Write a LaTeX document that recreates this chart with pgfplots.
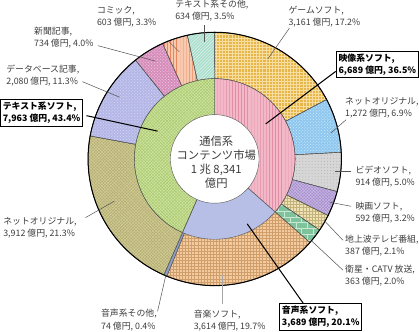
\documentclass[border=0pt]{standalone}
\usepackage{pgfplots}
\usepackage{pgfplotstable}
\pgfplotsset{compat=1.18}
\usetikzlibrary{patterns}
\usepackage{fontspec}
\setmainfont{Noto Sans CJK JP}

\definecolor{game}{HTML}{E6B64A}\definecolor{gamep}{HTML}{F7DE9E}
\definecolor{vnet}{HTML}{8FC7EF}\definecolor{vnetp}{HTML}{D6ECFB}
\definecolor{vsoft}{HTML}{D6D6D6}\definecolor{vsoftp}{HTML}{B4B4B4}
\definecolor{film}{HTML}{A68ECC}\definecolor{filmp}{HTML}{CBBCE6}
\definecolor{terr}{HTML}{EDE2B6}\definecolor{terrp}{HTML}{C4B27A}
\definecolor{sat}{HTML}{7EC39C}\definecolor{satp}{HTML}{C8E8D4}
\definecolor{music}{HTML}{F2CCA0}\definecolor{musicp}{HTML}{CF9E6A}
\definecolor{aoth}{HTML}{8C9CC2}
\definecolor{tnet}{HTML}{B5AF72}\definecolor{tnetp}{HTML}{D3CE9A}
\definecolor{db}{HTML}{B4B6E6}\definecolor{dbp}{HTML}{DADBF5}
\definecolor{news}{HTML}{D68DBB}\definecolor{newsp}{HTML}{F2D2E6}
\definecolor{comic}{HTML}{F7C9AE}\definecolor{comicp}{HTML}{E8875E}
\definecolor{toth}{HTML}{A9DDCC}\definecolor{tothp}{HTML}{E8F7F1}
\definecolor{itext}{HTML}{CFE59E}\definecolor{itextp}{HTML}{A9C872}
\definecolor{ivideo}{HTML}{F3B8C8}\definecolor{ivideop}{HTML}{E28EA6}
\definecolor{iaudio}{HTML}{B8BFE6}
\definecolor{sep}{HTML}{555555}
\definecolor{lbl}{HTML}{3C3C3C}

\tikzset{
 sgame/.style={fill=game,postaction={pattern=grid,pattern color=gamep}},
 svnet/.style={fill=vnet,postaction={pattern=crosshatch dots,pattern color=vnetp}},
 svsoft/.style={fill=vsoft,postaction={pattern=dots,pattern color=vsoftp}},
 sfilm/.style={fill=film,postaction={pattern=crosshatch,pattern color=filmp}},
 sterr/.style={fill=terr,postaction={pattern=grid,pattern color=terrp}},
 ssat/.style={fill=sat,postaction={pattern=bricks,pattern color=satp}},
 smusic/.style={fill=music,postaction={pattern=grid,pattern color=musicp}},
 saoth/.style={fill=aoth},
 stnet/.style={fill=tnet,postaction={pattern=crosshatch,pattern color=tnetp}},
 sdb/.style={fill=db,postaction={pattern=crosshatch dots,pattern color=dbp}},
 snews/.style={fill=news,postaction={pattern=crosshatch dots,pattern color=newsp}},
 scomic/.style={fill=comic,postaction={pattern=vertical lines,pattern color=comicp}},
 stoth/.style={fill=toth,postaction={pattern=north east lines,pattern color=tothp}},
 sitext/.style={fill=itext,postaction={pattern=crosshatch,pattern color=itextp}},
 sivideo/.style={fill=ivideo,postaction={pattern=vertical lines,pattern color=ivideop}},
 siaudio/.style={fill=iaudio},
 lab/.style={anchor=west,align=left,inner sep=0pt,text=lbl,font=\fontsize{8.6}{11.8}\selectfont},
 box/.style={anchor=north west,align=left,inner sep=2.2pt,draw=black,line width=1.1pt,fill=white,font=\bfseries\fontsize{8.6}{12}\selectfont},
 lead/.style={draw=sep,line width=0.5pt},
 blead/.style={draw=black,line width=1pt},
}

% values in 100 million yen (total 18,341), clockwise from the top
\pgfplotstableread[col sep=comma]{
value,style
3161,sgame
1272,svnet
914,svsoft
592,sfilm
387,sterr
363,ssat
3614,smusic
74,saoth
3912,stnet
2080,sdb
734,snews
603,scomic
634,stoth
}\outerdata
\pgfplotstableread[col sep=comma]{
value,style
6689,sivideo
3689,siaudio
7963,sitext
}\innerdata

\newcommand{\cx}{210.5}
\newcommand{\cy}{157}
% total / 100 (kept small for pgfmath)
\newcommand{\totalh}{183.41}

\newcommand{\drawring}[2]{% table, radius
  \pgfplotstablegetrowsof{#1}%
  \pgfmathtruncatemacro\nrows{\pgfplotsretval-1}%
  \gdef\cumang{90}%
  \pgfplotsforeachungrouped \i in {0,...,\nrows}{%
    \pgfplotstablegetelem{\i}{value}\of#1\let\val\pgfplotsretval
    \pgfplotstablegetelem{\i}{style}\of#1\let\sty\pgfplotsretval
    \pgfmathsetmacro\aone{\cumang}%
    \pgfmathsetmacro\atwo{\aone-(\val/\totalh)*3.6}%
    \xdef\cumang{\atwo}%
    \edef\tmp{\noexpand\addplot[\sty,draw=sep,line width=0.4pt,domain=\atwo:\aone,samples=80]
      ({\cx+#2*cos(x)},{\cy-#2*sin(x)}) -- (axis cs:\cx,\cy) -- cycle;}%
    \tmp
  }%
}

\begin{document}
\begin{tikzpicture}
\begin{axis}[width=419pt,height=330pt,scale only axis,
  xmin=0,xmax=419,ymin=0,ymax=330,y dir=reverse,
  hide axis,clip=false,no markers]
\drawring{\outerdata}{123}
\drawring{\innerdata}{78}
\addplot[draw=black,line width=1pt,domain=0:360,samples=181] ({\cx+123*cos(x)},{\cy-123*sin(x)});
\addplot[fill=white,draw=sep,line width=0.4pt,domain=0:360,samples=121] ({\cx+43*cos(x)},{\cy-43*sin(x)}) -- cycle;

\node[align=center,inner sep=0pt,text=lbl,font=\fontsize{11}{13.4}\selectfont] at (axis cs:212,160) {通信系\\コンテンツ市場\\1 兆 8,341\\億円};

% leader lines
\draw[lead] (axis cs:283,30) -- (axis cs:262,60);
\draw[lead] (axis cs:200,27) -- (axis cs:200,43);
\draw[lead] (axis cs:165,42) -- (axis cs:176,53);
\draw[lead] (axis cs:97,47) -- (axis cs:153,62);
\draw[lead] (axis cs:82,82) -- (axis cs:118,97);
\draw[lead] (axis cs:338,119) -- (axis cs:323,132);
\draw[lead] (axis cs:343,169) -- (axis cs:327,169);
\draw[lead] (axis cs:343,203) -- (axis cs:322,199);
\draw[lead] (axis cs:335,236) -- (axis cs:317,217);
\draw[lead] (axis cs:335,265) -- (axis cs:305,237);
\draw[draw=gray!70,line width=1.3pt] (axis cs:218,298) -- (axis cs:218,270);
\draw[lead] (axis cs:155,305) -- (axis cs:163,270);
\draw[lead] (axis cs:85,214) -- (axis cs:113,198);
\draw[blead] (axis cs:86,115) -- (axis cs:155,130);
\draw[blead] (axis cs:328,72) -- (axis cs:260,123);
\draw[blead] (axis cs:297,298) -- (axis cs:242,220);

% labels
\node[lab] at (axis cs:172,13) {テキスト系その他,\\634 億円, 3.5\%};
\node[lab] at (axis cs:96,19) {コミック,\\603 億円, 3.3\%};
\node[lab] at (axis cs:282,19) {ゲームソフト,\\3,161 億円, 17.2\%};
\node[lab] at (axis cs:35,39.5) {新聞記事,\\734 億円, 4.0\%};
\node[lab] at (axis cs:8,76) {データベース記事,\\2,080 億円, 11.3\%};
\node[lab] at (axis cs:337,107.5) {ネットオリジナル,\\1,272 億円, 6.9\%};
\node[lab] at (axis cs:347,174.5) {ビデオソフト,\\914 億円, 5.0\%};
\node[lab] at (axis cs:347,209) {映画ソフト,\\592 億円, 3.2\%};
\node[lab] at (axis cs:337,241) {地上波テレビ番組,\\387 億円, 2.1\%};
\node[lab] at (axis cs:337,270) {衛星・CATV 放送,\\363 億円, 2.0\%};
\node[lab] at (axis cs:190,314) {音楽ソフト,\\3,614 億円, 19.7\%};
\node[lab] at (axis cs:100,313.5) {音声系その他,\\74 億円, 0.4\%};
\node[lab] at (axis cs:5,224) {ネットオリジナル,\\3,912 億円, 21.3\%};
\node[box] at (axis cs:2,99) {テキスト系ソフト,\\7,963 億円, 43.4\%};
\node[box] at (axis cs:328,52) {映像系ソフト,\\6,689 億円, 36.5\%};
\node[box] at (axis cs:273,297) {音声系ソフト,\\3,689 億円, 20.1\%};
\end{axis}
\end{tikzpicture}
\end{document}
